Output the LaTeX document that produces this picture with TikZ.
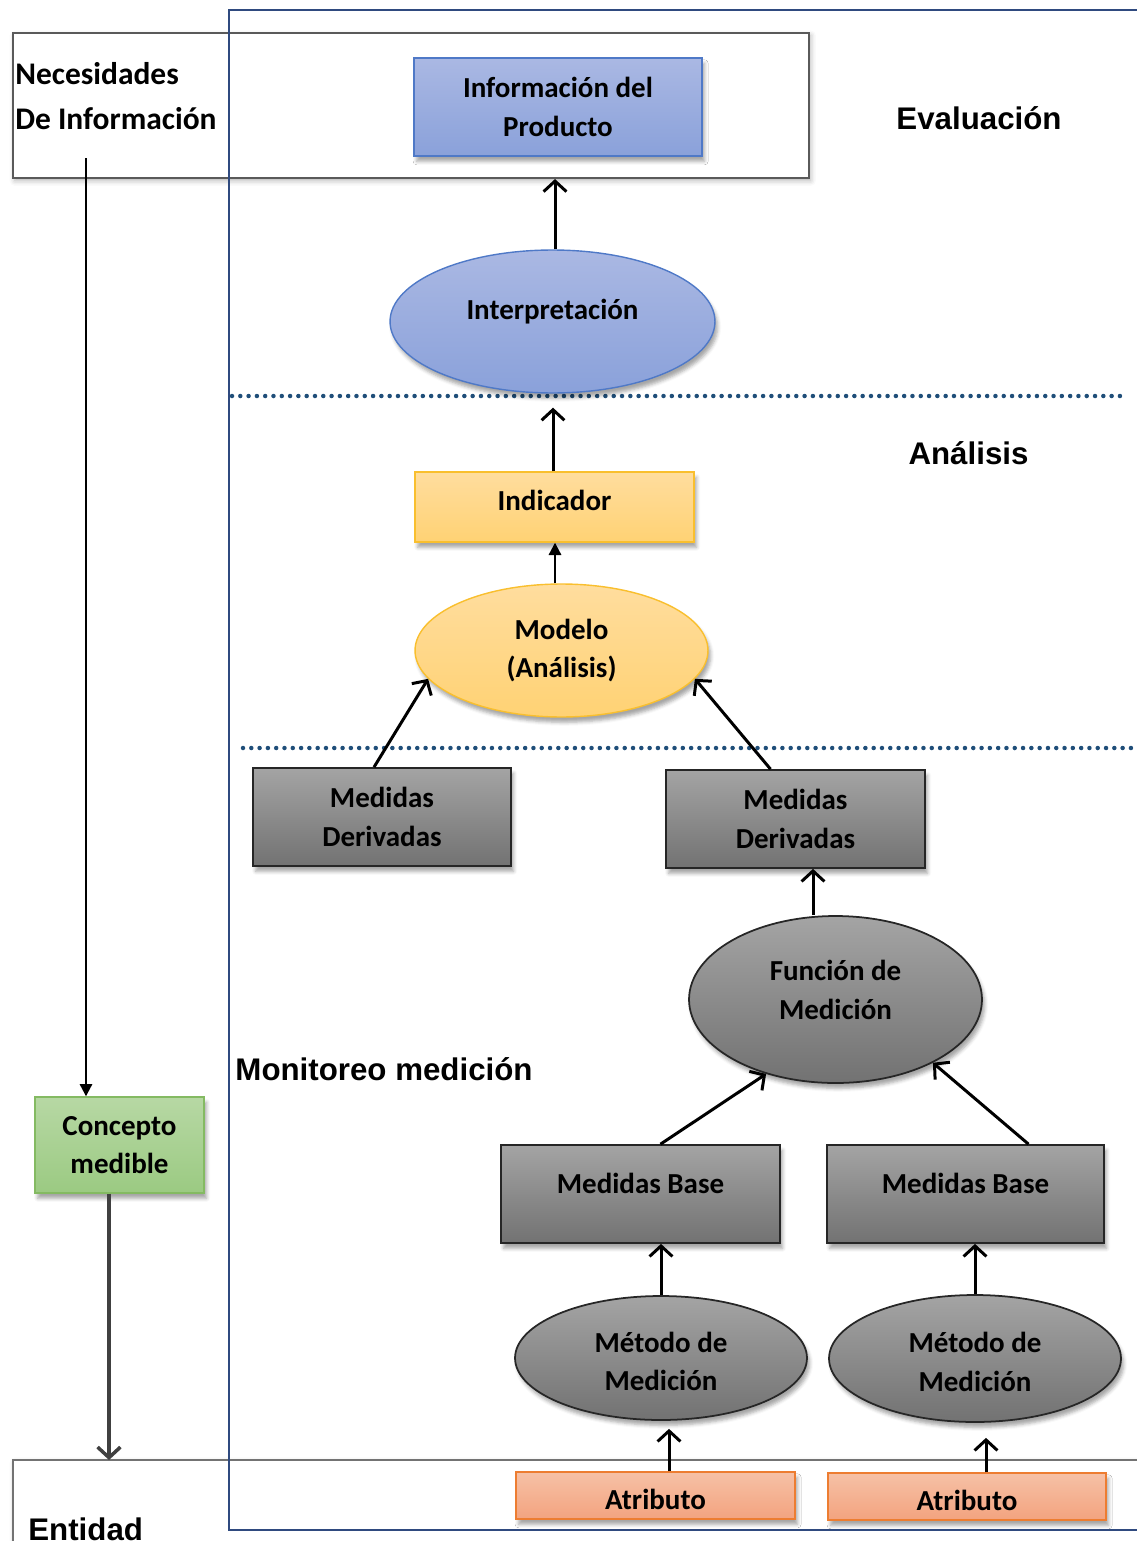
\documentclass[tikz,border=0pt]{standalone}
\usepackage{fontspec}
\setmainfont{Carlito}
\newfontfamily\arialfont{Liberation Sans}
\usetikzlibrary{shapes.geometric,arrows.meta,calc,shadows.blur}

\definecolor{bluetop}{HTML}{AAB8E3}
\definecolor{bluebot}{HTML}{8AA1DA}
\definecolor{blueline}{HTML}{4F79C7}
\definecolor{yeltop}{HTML}{FFDD9E}
\definecolor{yelbot}{HTML}{FFD274}
\definecolor{yelline}{HTML}{F9BF2E}
\definecolor{graytop}{HTML}{A4A4A4}
\definecolor{graybot}{HTML}{727272}
\definecolor{grayline}{HTML}{262626}
\definecolor{orgtop}{HTML}{F6C1A6}
\definecolor{orgbot}{HTML}{F3A37F}
\definecolor{orgline}{HTML}{ED7D31}
\definecolor{grntop}{HTML}{B7D8A4}
\definecolor{grnbot}{HTML}{9BCA82}
\definecolor{grnline}{HTML}{84BA62}
\definecolor{framenavy}{HTML}{2F4A7F}
\definecolor{framegray}{HTML}{5A5A5A}
\definecolor{dotblue}{HTML}{1F4E79}
\definecolor{darkarrow}{HTML}{404040}

\begin{document}
\begin{tikzpicture}[x=0.02cm,y=-0.02cm,
  nodetxt/.style={font=\fontsize{16.5}{22}\selectfont\bfseries, align=center, text=black},
  softshadow/.style={blur shadow={shadow xshift=1.5pt,shadow yshift=-3pt,shadow blur radius=2pt,shadow opacity=35}},
  boxbase/.style={rectangle, inner sep=0pt, nodetxt, softshadow, line width=0.8pt},
  ellbase/.style={ellipse, inner sep=0pt, nodetxt, softshadow, line width=0.8pt},
  bluebox/.style={top color=bluetop, bottom color=bluebot, draw=blueline},
  yelbox/.style={top color=yeltop, bottom color=yelbot, draw=yelline},
  graybox/.style={top color=graytop, bottom color=graybot, draw=grayline, line width=1pt},
  orgbox/.style={top color=orgtop, bottom color=orgbot, draw=orgline},
  grnbox/.style={top color=grntop, bottom color=grnbot, draw=grnline},
  frame/.style={rectangle, inner sep=0pt, draw=framegray, line width=1.2pt, fill=white,
    blur shadow={shadow xshift=1pt,shadow yshift=-1.5pt,shadow blur radius=3pt,shadow opacity=30}},
  sect/.style={font=\arialfont\fontsize{17.8}{20}\selectfont\bfseries, inner sep=0pt},
  needtxt/.style={font=\fontsize{17.9}{25}\selectfont\bfseries, inner sep=0pt},
  sepline/.style={draw=dotblue, line width=0.09cm, line cap=round, dash pattern=on 0pt off 0.166cm},
  flow/.style={line width=1.7pt, -{Straight Barb[length=6pt,width=13pt]}},
  thinflow/.style={line width=1.2pt, -{Triangle[length=7pt,width=7pt]}},
]
\useasboundingbox (0,0) rectangle (1136,1541);

% outer frames
\node[frame, minimum width=15.92cm, minimum height=2.9cm] (necbox) at (411,105.5) {};
\node[frame, draw=gray!90!black, minimum width=22.84cm, minimum height=2.8cm] (entbox) at (584,1530) {};
\draw[framenavy, line width=1.1pt] (229,10) rectangle (1160,1530);

% separators between the stages
\draw[sepline] (232,396) -- (1125,396);
\draw[sepline] (243,748) -- (1136,748);

% stage titles
\node[sect, anchor=base] (tEval) at (979,130) {Evaluación};
\node[sect, anchor=base] (tAnal) at (968.5,464) {Análisis};
\node[sect, anchor=base] (tMoni) at (384,1080) {Monitoreo medición};
\node[sect, anchor=base west] (tEnt) at (28,1540) {Entidad};
\node[needtxt, anchor=base west] (tNec1) at (15,85) {Necesidades};
\node[needtxt, anchor=base west] (tNec2) at (15,130) {De Información};

% nodes
\node[boxbase, bluebox, minimum width=5.76cm, minimum height=1.96cm] (info) at (558,107) {Información del\\Producto};
\node[ellbase, bluebox, minimum width=6.5cm, minimum height=2.86cm,
  label={[nodetxt,yshift=5.5pt]center:Interpretación}] (interp) at (552.5,321.5) {};
\node[boxbase, yelbox, minimum width=5.58cm, minimum height=1.4cm,
  label={[nodetxt,yshift=4pt]center:Indicador}] (indic) at (554.5,507) {};
\node[ellbase, yelbox, minimum width=5.86cm, minimum height=2.66cm] (modelo) at (561.5,650.5) {Modelo\\(Análisis)};
\node[boxbase, graybox, minimum width=5.16cm, minimum height=1.96cm] (mdL) at (382,817) {Medidas\\Derivadas};
\node[boxbase, graybox, minimum width=5.18cm, minimum height=1.96cm] (mdR) at (795.5,819) {Medidas\\Derivadas};
\node[ellbase, graybox, minimum width=5.86cm, minimum height=3.34cm,
  label={[nodetxt,yshift=5.5pt]center:Función de\\Medición}] (func) at (835.5,999.5) {};
\node[boxbase, graybox, minimum width=5.58cm, minimum height=1.96cm,
  label={[nodetxt,yshift=6pt]center:Medidas Base}] (mbL) at (640.5,1194) {};
\node[boxbase, graybox, minimum width=5.54cm, minimum height=1.96cm,
  label={[nodetxt,yshift=6pt]center:Medidas Base}] (mbR) at (965.5,1194) {};
\node[ellbase, graybox, minimum width=5.84cm, minimum height=2.48cm,
  label={[nodetxt,yshift=-2pt]center:Método de\\Medición}] (metL) at (661,1358) {};
\node[ellbase, graybox, minimum width=5.84cm, minimum height=2.54cm,
  label={[nodetxt,yshift=-2pt]center:Método de\\Medición}] (metR) at (975,1358.5) {};
\node[boxbase, orgbox, minimum width=5.58cm, minimum height=0.94cm,
  label={[nodetxt,yshift=-2.5pt]center:Atributo}] (atrL) at (655.5,1495.5) {};
\node[boxbase, orgbox, minimum width=5.56cm, minimum height=0.94cm,
  label={[nodetxt,yshift=-2.5pt]center:Atributo}] (atrR) at (967,1496.5) {};
\node[boxbase, grnbox, minimum width=3.38cm, minimum height=1.92cm] (concepto) at (119.5,1145) {Concepto\\medible};

% free ends
\coordinate (necStart) at (86,158);
\coordinate (entTop) at (109,1460);
\coordinate (aL) at ($(metL.south)+(8,8)$);
\coordinate (aR) at ($(metR.south)+(11,15)$);

% connectors
\draw[thinflow] (necStart) -- (necStart |- concepto.north);
\draw[line width=2pt, darkarrow, -{Straight Barb[length=6pt,width=13pt]}] (concepto.south -| entTop) -- (entTop);
\draw[flow] (interp.north -| 555,0) -- (555,0 |- necbox.south);
\draw[flow, shorten >=0.28cm] (indic.north -| 553,0) -- (553,0 |- interp.south);
\draw[thinflow] (modelo.north -| 555,0) -- (555,0 |- indic.south);
\draw[flow] ($(mdL.north)+(-8,0)$) -- (modelo.192);
\draw[flow] ($(mdR.north)+(-25,0)$) -- (modelo.348);
\draw[flow] ($(func.north)+(-22.5,0)$) -- (813,0 |- mdR.south);
\draw[flow] ($(mbL.north)+(20,0)$) -- (func.227);
\draw[flow] ($(mbR.north)+(63,0)$) -- (func.327);
\draw[flow] (metL.north) -- (metL.north |- mbL.south);
\draw[flow] (metR.north) -- (metR.north |- mbR.south);
\draw[flow] (aL |- atrL.north) -- (aL);
\draw[flow] (aR |- atrR.north) -- (aR);
\end{tikzpicture}
\end{document}
